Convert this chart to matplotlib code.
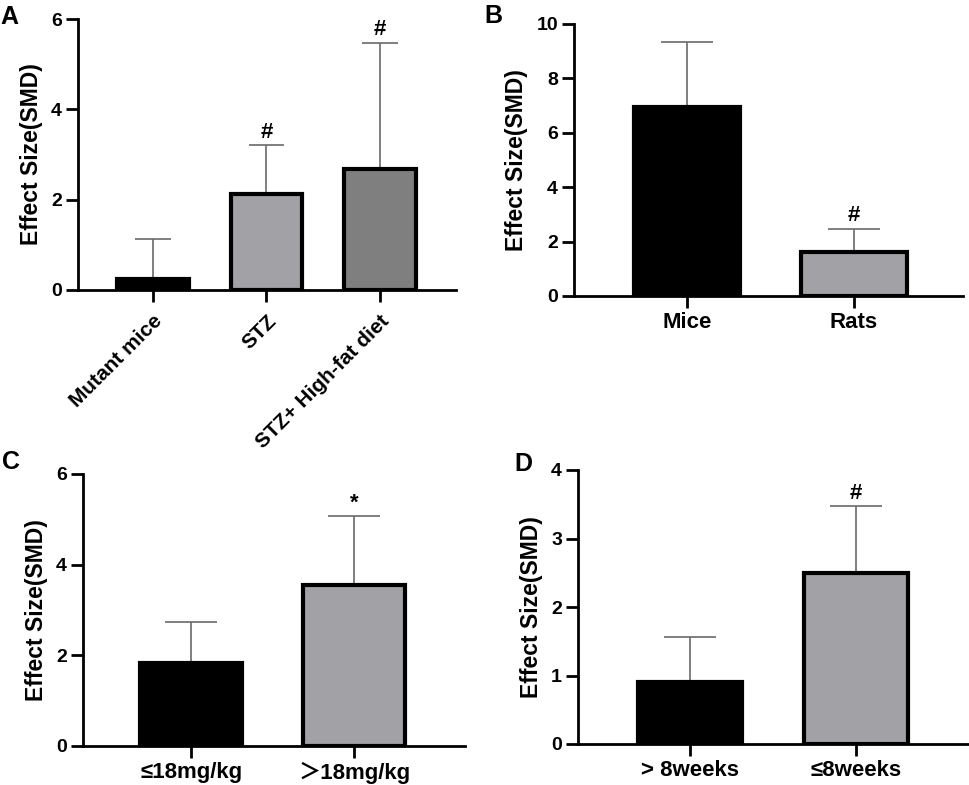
import matplotlib
matplotlib.use("Agg")
import matplotlib.pyplot as plt

plt.rcParams['font.family'] = ['Liberation Sans', 'Noto Sans CJK SC', 'DejaVu Sans']
plt.rcParams['font.weight'] = 'bold'

# panel A
a_labels = ["Mutant mice", "STZ", "STZ+ High-fat diet"]
a_mean = [0.24, 2.12, 2.69]
a_upper = [1.14, 3.20, 5.47]
a_marks = ["", "#", "#"]

# panel B
b_labels = ["Mice", "Rats"]
b_mean = [6.96, 1.62]
b_upper = [9.35, 2.47]
b_marks = ["", "#"]

# panel C
c_labels = ["≤18mg/kg", "＞18mg/kg"]
c_mean = [1.83, 3.56]
c_upper = [2.74, 5.07]
c_marks = ["", "*"]

# panel D
d_labels = ["> 8weeks", "≤8weeks"]
d_mean = [0.905, 2.50]
d_upper = [1.566, 3.47]
d_marks = ["", "#"]

BLACK = "#000000"
LIGHT = "#a2a2a6"
DARK = "#7f7f7f"


def panel(ax, labels, mean, upper, marks, colors, ymax, ystep, xlim, lab_px, rot=False):
    x = list(range(len(labels)))
    w = 0.63
    ax.bar(x, mean, width=w, color=colors, edgecolor="black", linewidth=3, zorder=3)
    ax.vlines(x, mean, upper, color="#6a6a6a", linewidth=1.2, zorder=2)
    ax.hlines(upper, [i - w / 4 for i in x], [i + w / 4 for i in x],
              color="#6a6a6a", linewidth=1.2, zorder=2)
    for i, m in enumerate(marks):
        if m:
            ax.annotate(m, (x[i], upper[i]), xytext=(0, 2), textcoords="offset points",
                        ha="center", va="bottom", fontsize=16, fontweight="bold")
    ax.set_ylim(0, ymax)
    ax.set_xlim(*xlim)
    ax.set_yticks([ystep * k for k in range(int(round(ymax / ystep)) + 1)])
    ax.set_xticks(x)
    ax.tick_params(axis="both", width=2, length=8.5, labelsize=14, pad=3)
    if rot:
        ax.set_xticklabels(labels, rotation=45, ha="right", va="top",
                           rotation_mode="anchor", fontsize=15, fontweight="bold")
        ax.tick_params(axis="x", pad=7)
    else:
        ax.set_xticklabels(labels, fontsize=16, fontweight="bold")
    ax.set_ylabel("Effect Size(SMD)", fontsize=16.5, fontweight="bold")
    for s in ["top", "right"]:
        ax.spines[s].set_visible(False)
    for s in ["left", "bottom"]:
        ax.spines[s].set_linewidth(2)
    for t in ax.get_yticklabels():
        t.set_fontweight("bold")
    ax.yaxis.set_label_coords(lab_px / (ax.get_position().width * 969), 0.5)


fig = plt.figure(figsize=(9.69, 7.85), dpi=100)

axA = fig.add_axes([78 / 969, 1 - 290 / 785, (456 - 78) / 969, (290 - 19) / 785])
panel(axA, a_labels, a_mean, a_upper, a_marks, [BLACK, LIGHT, DARK], 6, 2, (-0.66, 2.67), -35, rot=True)

axB = fig.add_axes([574 / 969, 1 - 296 / 785, (963 - 574) / 969, (296 - 24) / 785])
panel(axB, b_labels, b_mean, b_upper, b_marks, [BLACK, LIGHT], 10, 2, (-0.677, 1.653), -46)

axC = fig.add_axes([83 / 969, 1 - 746 / 785, (465 - 83) / 969, (746 - 474) / 785])
panel(axC, c_labels, c_mean, c_upper, c_marks, [BLACK, LIGHT], 6, 2, (-0.663, 1.68), -35)

axD = fig.add_axes([578 / 969, 1 - 744 / 785, (968 - 578) / 969, (744 - 470) / 785])
panel(axD, d_labels, d_mean, d_upper, d_marks, [BLACK, LIGHT], 4, 1, (-0.675, 1.675), -35)

for letter, (px, py) in zip("ABCD", [(0, 5), (484, 4), (2, 450), (514, 452)]):
    fig.text(px / 969, 1 - py / 785, letter, fontsize=18, fontweight="bold",
             ha="left", va="top")

fig.savefig("out.png", dpi=100)
